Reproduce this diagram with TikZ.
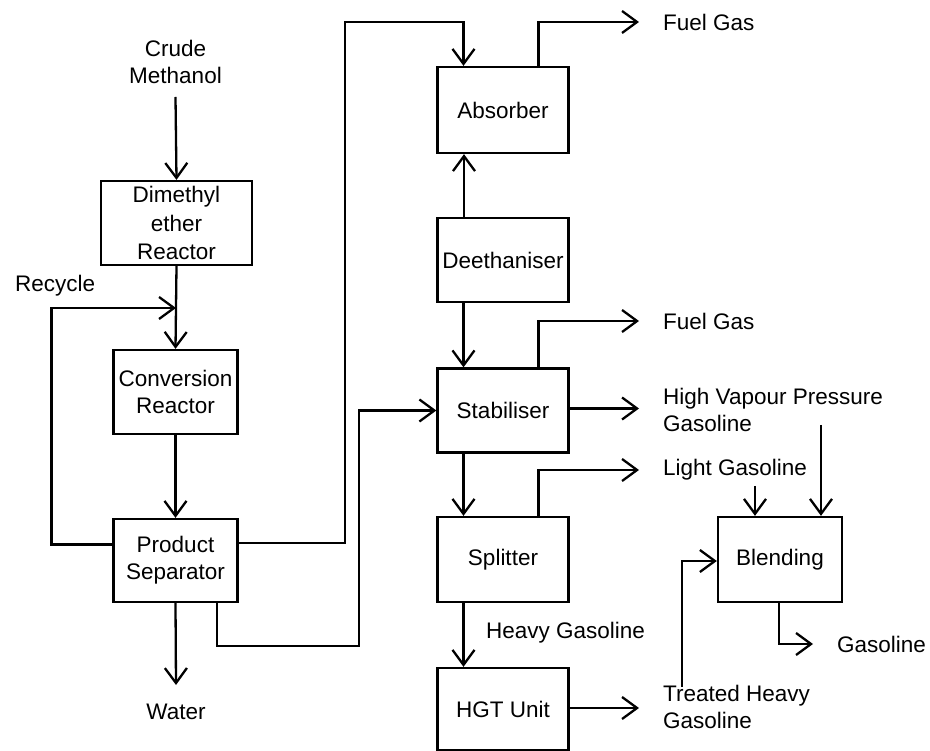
\documentclass[tikz,border=0pt]{standalone}
\usepackage{fontspec}
\setmainfont{Liberation Sans}
\usetikzlibrary{arrows.meta,positioning}
\begin{document}
\begin{tikzpicture}[x=1pt,y=-1pt,
  every node/.style={font=\fontsize{22.5}{27}\selectfont, inner sep=0pt, align=center},
  unit/.style={draw, line width=2.3pt, minimum width=131pt, minimum height=84pt},
  lunit/.style={unit, minimum width=124pt},
  lbl/.style={anchor=west, align=left},
  arr/.style={line width=2.3pt, -{Straight Barb[length=15pt,width=22pt]}},
  outarr/.style={arr, shorten >=24pt}]
\useasboundingbox (0,0) rectangle (930,751);
% left column
\node (crude) at (175.5,62) {Crude\\Methanol};
\node[unit, minimum width=151pt, font=\fontsize{22.5}{28.5}\selectfont] (dme) at (176.5,223) {Dimethyl\\ether\\Reactor};
\node[lunit] (conv) at (175.5,392) {Conversion\\Reactor};
\node[lunit, minimum height=83pt] (sep) at (175.5,560.5) {Product\\Separator};
\node (water) at (176,712) {Water};
\node[lbl] (recycle) at (15,286) {Recycle};
\coordinate (rec) at (176,308);
% middle column
\node[unit, minimum height=86pt] (abs) at (503,110) {Absorber};
\node[unit] (deeth) at (503,260) {Deethaniser};
\node[unit] (stab) at (503,410.5) {Stabiliser};
\node[unit, minimum height=85pt] (split) at (503,559.5) {Splitter};
\node[unit, minimum height=82pt] (hgt) at (503,709) {HGT Unit};
\node[lbl] (heavy) at (486,633) {Heavy Gasoline};
% right side labels
\node[lbl] (fuel1) at (663,22) {Fuel Gas};
\node[lbl] (fuel2) at (663,321) {Fuel Gas};
\node[lbl] (hvp) at (663,409.5) {High Vapour Pressure\\Gasoline};
\node[lbl] (light) at (663,470) {Light Gasoline};
\node[lbl] (treated) at (663,707) {Treated Heavy\\Gasoline};
\node[lunit, minimum height=85pt] (blend) at (780,559.5) {Blending};
\node[lbl] (gas) at (837,644) {Gasoline};
\coordinate (b1) at ([xshift=-25pt]blend.north);
\coordinate (b2) at ([xshift=41pt]blend.north);
\coordinate (top) at (345,22);
% connectors left
\draw[arr] ([yshift=-35pt]crude.center) -- (dme.north);
\draw[arr] (dme.south) -- (conv.north);
\draw[arr] ([yshift=16pt]sep.west) -- ++(-61,0) |- (rec);
\draw[arr] (conv.south) -- (sep.north);
\draw[arr] (sep.south) -- ([yshift=27pt]water.center);
\draw[arr] ([yshift=17.5pt]sep.east) -| (top) -| ([xshift=-39.5pt]abs.north);
\draw[arr] ([xshift=41.5pt]sep.south) -- ++(0,43) -- ++(142,0) |- (stab.west);
% connectors middle
\draw[arr] ([xshift=-39pt]deeth.north) -- ([xshift=-39pt]abs.south);
\draw[arr] ([xshift=-39.5pt]deeth.south) -- ([xshift=-39.5pt]stab.north);
\draw[arr] ([xshift=-39.5pt]stab.south) -- ([xshift=-39.5pt]split.north);
\draw[arr] ([xshift=-39.5pt]split.south) -- ([xshift=-39.5pt]hgt.north);
% outputs
\draw[outarr] ([xshift=35.5pt]abs.north) |- (fuel1.west);
\draw[outarr] ([xshift=35.5pt]stab.north) |- (fuel2.west);
\draw[outarr] ([yshift=2pt]stab.east) -- ([yshift=2pt]stab.east -| hvp.west);
\draw[outarr] ([xshift=35.5pt]split.north) |- (light.west);
\draw[outarr] ([yshift=1pt]hgt.east) -- ([yshift=1pt]hgt.east -| treated.west);
% blending
\draw[arr] ([xshift=19pt,yshift=-2pt]treated.north west) |- ([yshift=-1.5pt]blend.west);
\draw[arr] ([yshift=30pt]b1) -- (b1);
\draw[arr] ([yshift=91pt]b2) -- (b2);
\draw[outarr] ([xshift=-1pt]blend.south) |- (gas.west);
\end{tikzpicture}
\end{document}
